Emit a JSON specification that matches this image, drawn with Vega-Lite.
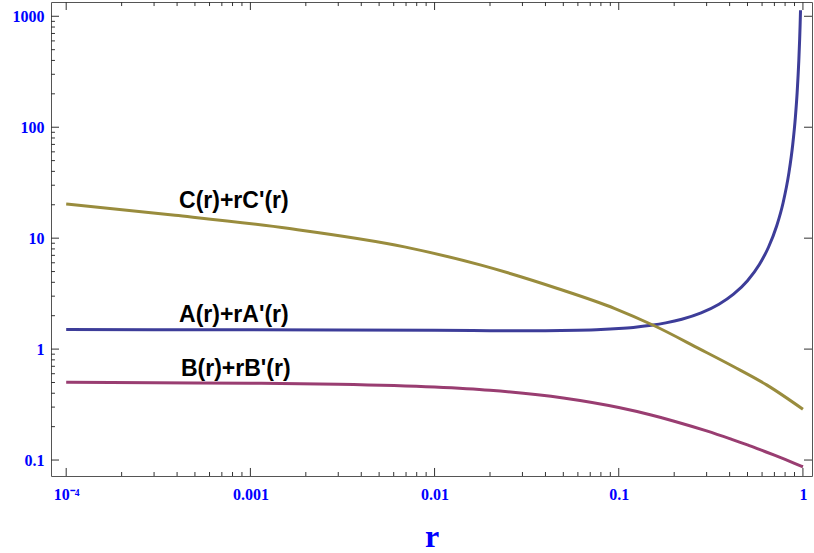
{
  "$schema": "https://vega.github.io/schema/vega-lite/v6.json",
  "width": 761,
  "height": 474,
  "autosize": {"type": "none"},
  "padding": {"left": 51, "top": 2, "right": 2, "bottom": 77},
  "background": "white",
  "config": {
    "view": {"stroke": "#555555", "strokeWidth": 1},
    "axis": {
      "grid": false,
      "domain": false,
      "ticks": false,
      "labelFont": "Liberation Serif",
      "labelFontWeight": "bold",
      "labelFontSize": 16,
      "labelColor": "#0000ff",
      "labelOverlap": false,
      "labelFlush": false,
      "labelBound": false
    },
    "rule": {"color": "#333333", "strokeWidth": 1}
  },
  "datasets": {
    "curves": [
      {"r": 0.0001, "v": 1.503, "s": "A"},
      {"r": 0.0003, "v": 1.498, "s": "A"},
      {"r": 0.001, "v": 1.495, "s": "A"},
      {"r": 0.003, "v": 1.489, "s": "A"},
      {"r": 0.01, "v": 1.475, "s": "A"},
      {"r": 0.02, "v": 1.466, "s": "A"},
      {"r": 0.04, "v": 1.464, "s": "A"},
      {"r": 0.06, "v": 1.477, "s": "A"},
      {"r": 0.08, "v": 1.5, "s": "A"},
      {"r": 0.1, "v": 1.532, "s": "A"},
      {"r": 0.12, "v": 1.569, "s": "A"},
      {"r": 0.15, "v": 1.639, "s": "A"},
      {"r": 0.18, "v": 1.723, "s": "A"},
      {"r": 0.22, "v": 1.858, "s": "A"},
      {"r": 0.28, "v": 2.119, "s": "A"},
      {"r": 0.35, "v": 2.536, "s": "A"},
      {"r": 0.42, "v": 3.125, "s": "A"},
      {"r": 0.5, "v": 4.137, "s": "A"},
      {"r": 0.58, "v": 5.794, "s": "A"},
      {"r": 0.65, "v": 8.28, "s": "A"},
      {"r": 0.72, "v": 12.86, "s": "A"},
      {"r": 0.78, "v": 20.76, "s": "A"},
      {"r": 0.84, "v": 39.16, "s": "A"},
      {"r": 0.88, "v": 69.54, "s": "A"},
      {"r": 0.91, "v": 123.6, "s": "A"},
      {"r": 0.93, "v": 204.2, "s": "A"},
      {"r": 0.95, "v": 400.1, "s": "A"},
      {"r": 0.96, "v": 625.1, "s": "A"},
      {"r": 0.965, "v": 816.4, "s": "A"},
      {"r": 0.9703, "v": 1134, "s": "A"},

      {"r": 0.0001, "v": 0.503, "s": "B"},
      {"r": 0.0003, "v": 0.497, "s": "B"},
      {"r": 0.001, "v": 0.493, "s": "B"},
      {"r": 0.003, "v": 0.483, "s": "B"},
      {"r": 0.01, "v": 0.455, "s": "B"},
      {"r": 0.02, "v": 0.425, "s": "B"},
      {"r": 0.05, "v": 0.362, "s": "B"},
      {"r": 0.1, "v": 0.297, "s": "B"},
      {"r": 0.15, "v": 0.2545, "s": "B"},
      {"r": 0.2, "v": 0.224, "s": "B"},
      {"r": 0.3, "v": 0.183, "s": "B"},
      {"r": 0.4, "v": 0.156, "s": "B"},
      {"r": 0.5, "v": 0.137, "s": "B"},
      {"r": 0.6, "v": 0.122, "s": "B"},
      {"r": 0.7, "v": 0.1106, "s": "B"},
      {"r": 0.8, "v": 0.1012, "s": "B"},
      {"r": 0.9, "v": 0.0934, "s": "B"},
      {"r": 1, "v": 0.087, "s": "B"},

      {"r": 0.0001, "v": 20.3, "s": "C"},
      {"r": 0.00039, "v": 16.1, "s": "C"},
      {"r": 0.00163, "v": 12.2, "s": "C"},
      {"r": 0.00686, "v": 8.35, "s": "C"},
      {"r": 0.0179, "v": 5.71, "s": "C"},
      {"r": 0.0465, "v": 3.52, "s": "C"},
      {"r": 0.0953, "v": 2.32, "s": "C"},
      {"r": 0.154, "v": 1.64, "s": "C"},
      {"r": 0.276, "v": 1.0, "s": "C"},
      {"r": 0.419, "v": 0.697, "s": "C"},
      {"r": 0.635, "v": 0.476, "s": "C"},
      {"r": 1, "v": 0.287, "s": "C"}
    ],
    "labels": [
      {"r": 0.00041, "v": 21.7, "label": "C(r)+rC'(r)"},
      {"r": 0.00041, "v": 2.02, "label": "A(r)+rA'(r)"},
      {"r": 0.00042, "v": 0.66, "label": "B(r)+rB'(r)"}
    ],
    "xmajor": [{"r": 0.0001}, {"r": 0.001}, {"r": 0.01}, {"r": 0.1}, {"r": 1}],
    "xminor": [
      {"r": 0.0002}, {"r": 0.0003}, {"r": 0.0004}, {"r": 0.0005}, {"r": 0.0006}, {"r": 0.0007}, {"r": 0.0008}, {"r": 0.0009},
      {"r": 0.002}, {"r": 0.003}, {"r": 0.004}, {"r": 0.005}, {"r": 0.006}, {"r": 0.007}, {"r": 0.008}, {"r": 0.009},
      {"r": 0.02}, {"r": 0.03}, {"r": 0.04}, {"r": 0.05}, {"r": 0.06}, {"r": 0.07}, {"r": 0.08}, {"r": 0.09},
      {"r": 0.2}, {"r": 0.3}, {"r": 0.4}, {"r": 0.5}, {"r": 0.6}, {"r": 0.7}, {"r": 0.8}, {"r": 0.9}
    ],
    "ymajor": [{"v": 0.1}, {"v": 1}, {"v": 10}, {"v": 100}, {"v": 1000}],
    "yminor": [
      {"v": 0.2}, {"v": 0.3}, {"v": 0.4}, {"v": 0.5}, {"v": 0.6}, {"v": 0.7}, {"v": 0.8}, {"v": 0.9},
      {"v": 2}, {"v": 3}, {"v": 4}, {"v": 5}, {"v": 6}, {"v": 7}, {"v": 8}, {"v": 9},
      {"v": 20}, {"v": 30}, {"v": 40}, {"v": 50}, {"v": 60}, {"v": 70}, {"v": 80}, {"v": 90},
      {"v": 200}, {"v": 300}, {"v": 400}, {"v": 500}, {"v": 600}, {"v": 700}, {"v": 800}, {"v": 900}
    ]
  },
  "layer": [
    {
      "data": {"name": "curves"},
      "mark": {"type": "line", "strokeWidth": 3, "interpolate": "monotone", "clip": true},
      "encoding": {
        "x": {
          "field": "r",
          "type": "quantitative",
          "scale": {"type": "log", "domain": [0.0000827, 1.12], "nice": false},
          "axis": {
            "orient": "bottom",
            "title": "r",
            "titleFont": "Liberation Serif",
            "titleFontWeight": "bold",
            "titleFontSize": 32,
            "titleColor": "#0000ff",
            "titleBaseline": "alphabetic",
            "titleY": 70,
            "values": [0.0001, 0.001, 0.01, 0.1, 1],
            "labelPadding": 10,
            "labelBaseline": "top",
            "labelExpr": "datum.value < 0.0005 ? '10⁻⁴' : format(datum.value, '~g')"
          }
        },
        "y": {
          "field": "v",
          "type": "quantitative",
          "scale": {"type": "log", "domain": [0.0718, 1345], "nice": false},
          "axis": {
            "orient": "left",
            "title": null,
            "values": [0.1, 1, 10, 100, 1000],
            "labelPadding": 7,
            "labelBaseline": "middle",
            "labelExpr": "format(datum.value, '~g')"
          }
        },
        "color": {
          "field": "s",
          "type": "nominal",
          "scale": {"domain": ["A", "B", "C"], "range": ["#3d3d99", "#993d71", "#998c3d"]},
          "legend": null
        }
      }
    },
    {
      "data": {"name": "labels"},
      "mark": {
        "type": "text",
        "align": "left",
        "baseline": "middle",
        "font": "Liberation Sans",
        "fontWeight": "bold",
        "fontSize": 23,
        "color": "#000000"
      },
      "encoding": {
        "x": {"field": "r", "type": "quantitative"},
        "y": {"field": "v", "type": "quantitative"},
        "text": {"field": "label"}
      }
    },
    {
      "data": {"name": "xmajor"},
      "mark": {"type": "rule"},
      "encoding": {
        "x": {"field": "r", "type": "quantitative"},
        "y": {"datum": 0.0718, "type": "quantitative"},
        "y2": {"datum": 0.0848}
      }
    },
    {
      "data": {"name": "xminor"},
      "mark": {"type": "rule"},
      "encoding": {
        "x": {"field": "r", "type": "quantitative"},
        "y": {"datum": 0.0718, "type": "quantitative"},
        "y2": {"datum": 0.078}
      }
    },
    {
      "data": {"name": "xmajor"},
      "mark": {"type": "rule"},
      "encoding": {
        "x": {"field": "r", "type": "quantitative"},
        "y": {"datum": 1345, "type": "quantitative"},
        "y2": {"datum": 1139}
      }
    },
    {
      "data": {"name": "xminor"},
      "mark": {"type": "rule"},
      "encoding": {
        "x": {"field": "r", "type": "quantitative"},
        "y": {"datum": 1345, "type": "quantitative"},
        "y2": {"datum": 1237}
      }
    },
    {
      "data": {"name": "ymajor"},
      "mark": {"type": "rule"},
      "encoding": {
        "y": {"field": "v", "type": "quantitative"},
        "x": {"datum": 0.0000827, "type": "quantitative"},
        "x2": {"datum": 0.0000914}
      }
    },
    {
      "data": {"name": "yminor"},
      "mark": {"type": "rule"},
      "encoding": {
        "y": {"field": "v", "type": "quantitative"},
        "x": {"datum": 0.0000827, "type": "quantitative"},
        "x2": {"datum": 0.0000869}
      }
    },
    {
      "data": {"name": "ymajor"},
      "mark": {"type": "rule"},
      "encoding": {
        "y": {"field": "v", "type": "quantitative"},
        "x": {"datum": 1.12, "type": "quantitative"},
        "x2": {"datum": 1.0136}
      }
    }
  ]
}
